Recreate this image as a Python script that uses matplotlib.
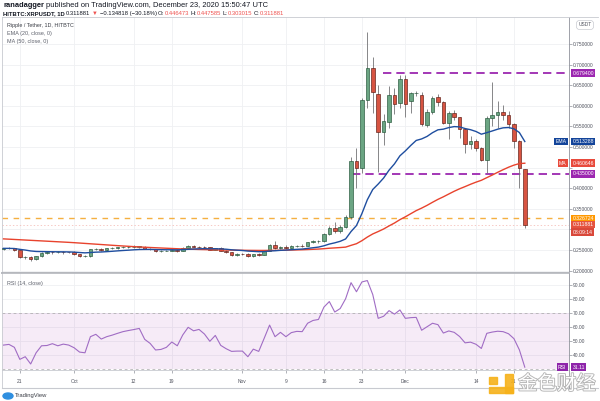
import numpy as np
import pandas as pd
import matplotlib
matplotlib.use('Agg')
import matplotlib.pyplot as plt
from matplotlib import transforms
from matplotlib.patches import Rectangle, Ellipse
from matplotlib.lines import Line2D
import matplotlib.patheffects as pe

plt.rcParams['lines.scale_dashes'] = False
FONT = ['Liberation Sans', 'DejaVu Sans']
plt.rcParams['font.family'] = FONT

# ---------------- data ----------------
dates = pd.date_range('2020-09-18', '2020-12-23', freq='D')

opens = [
    0.2530, 0.2540, 0.2545, 0.2495, 0.2325, 0.2340, 0.2270, 0.2345, 0.2435, 0.2445,
    0.2440, 0.2448, 0.2442, 0.2440, 0.2398, 0.2345, 0.2350, 0.2515, 0.2530, 0.2492,
    0.2540, 0.2555, 0.2568, 0.2575, 0.2578, 0.2582, 0.2585, 0.2532, 0.2522, 0.2478,
    0.2480, 0.2488, 0.2505, 0.2485, 0.2556, 0.2597, 0.2582, 0.2578, 0.2565, 0.2502,
    0.2548, 0.2482, 0.2444, 0.2380, 0.2410, 0.2403, 0.2345, 0.2398, 0.2385, 0.2484,
    0.2620, 0.2540, 0.2585, 0.2555, 0.2592, 0.2600, 0.2598, 0.2686, 0.2712, 0.2718,
    0.2900, 0.3039, 0.2958, 0.3063, 0.3306, 0.4660, 0.4480, 0.6140, 0.6910, 0.6290,
    0.5360, 0.5610, 0.6250, 0.6060, 0.6640, 0.6120, 0.6300, 0.6260, 0.5530, 0.5840,
    0.6220, 0.6080, 0.5590, 0.5830, 0.5720, 0.5430, 0.5070, 0.5150, 0.4970, 0.4680,
    0.5700, 0.5780, 0.5840, 0.5780, 0.5550, 0.5150, 0.446473]

highs = [
    0.2560, 0.2565, 0.2560, 0.2510, 0.2365, 0.2360, 0.2360, 0.2450, 0.2465, 0.2470,
    0.2480, 0.2465, 0.2460, 0.2470, 0.2410, 0.2370, 0.2530, 0.2550, 0.2550, 0.2555,
    0.2570, 0.2585, 0.2600, 0.2595, 0.2610, 0.2600, 0.2600, 0.2550, 0.2535, 0.2495,
    0.2510, 0.2525, 0.2515, 0.2575, 0.2620, 0.2615, 0.2605, 0.2600, 0.2580, 0.2560,
    0.2575, 0.2500, 0.2460, 0.2425, 0.2430, 0.2420, 0.2410, 0.2420, 0.2500, 0.2640,
    0.2720, 0.2600, 0.2610, 0.2610, 0.2625, 0.2635, 0.2700, 0.2740, 0.2745, 0.2920,
    0.3080, 0.3180, 0.3100, 0.3340, 0.4750, 0.4980, 0.6180, 0.7800, 0.7190, 0.6500,
    0.5800, 0.6480, 0.6440, 0.6750, 0.6750, 0.6330, 0.6360, 0.6330, 0.5930, 0.6230,
    0.6280, 0.6120, 0.5870, 0.5900, 0.5740, 0.5470, 0.5260, 0.5190, 0.4990, 0.5750,
    0.6580, 0.6110, 0.6030, 0.5880, 0.5580, 0.5180, 0.447585]

lows = [
    0.2500, 0.2515, 0.2480, 0.2300, 0.2290, 0.2240, 0.2250, 0.2320, 0.2415, 0.2410,
    0.2420, 0.2415, 0.2420, 0.2380, 0.2320, 0.2325, 0.2340, 0.2495, 0.2470, 0.2480,
    0.2520, 0.2535, 0.2545, 0.2550, 0.2550, 0.2555, 0.2520, 0.2500, 0.2450, 0.2455,
    0.2465, 0.2470, 0.2460, 0.2475, 0.2540, 0.2565, 0.2560, 0.2545, 0.2490, 0.2495,
    0.2470, 0.2430, 0.2365, 0.2365, 0.2385, 0.2335, 0.2330, 0.2360, 0.2375, 0.2470,
    0.2520, 0.2520, 0.2530, 0.2540, 0.2570, 0.2570, 0.2590, 0.2660, 0.2680, 0.2700,
    0.2870, 0.2920, 0.2920, 0.3040, 0.3250, 0.4000, 0.4360, 0.5950, 0.5830, 0.4400,
    0.5050, 0.5460, 0.5800, 0.5950, 0.5740, 0.5830, 0.6240, 0.5520, 0.5490, 0.5810,
    0.6000, 0.5550, 0.5200, 0.5660, 0.5230, 0.4850, 0.4950, 0.4900, 0.4650, 0.4360,
    0.5500, 0.5450, 0.5650, 0.5450, 0.4970, 0.4010, 0.303015]

closes = [
    0.2540, 0.2545, 0.2495, 0.2325, 0.2340, 0.2270, 0.2345, 0.2435, 0.2445, 0.2440,
    0.2448, 0.2442, 0.2440, 0.2398, 0.2345, 0.2350, 0.2515, 0.2530, 0.2492, 0.2540,
    0.2555, 0.2568, 0.2575, 0.2578, 0.2582, 0.2585, 0.2532, 0.2522, 0.2478, 0.2480,
    0.2488, 0.2505, 0.2485, 0.2556, 0.2597, 0.2582, 0.2578, 0.2565, 0.2502, 0.2548,
    0.2482, 0.2444, 0.2380, 0.2410, 0.2403, 0.2345, 0.2398, 0.2385, 0.2484, 0.2620,
    0.2540, 0.2585, 0.2555, 0.2592, 0.2600, 0.2598, 0.2686, 0.2712, 0.2718, 0.2900,
    0.3039, 0.2958, 0.3063, 0.3306, 0.4660, 0.4480, 0.6140, 0.6910, 0.6340, 0.5360,
    0.5630, 0.6260, 0.6040, 0.6640, 0.6040, 0.6300, 0.6310, 0.5550, 0.5840, 0.6200,
    0.6080, 0.5590, 0.5830, 0.5720, 0.5430, 0.5070, 0.5150, 0.4970, 0.4680, 0.5700,
    0.5780, 0.5840, 0.5780, 0.5550, 0.5150, 0.4480, 0.311881]

ema20 = [
    0.2540, 0.2540, 0.2536, 0.2516, 0.2499, 0.2477, 0.2465, 0.2462, 0.2460, 0.2458,
    0.2457, 0.2456, 0.2454, 0.2449, 0.2439, 0.2431, 0.2439, 0.2448, 0.2452, 0.2460,
    0.2469, 0.2479, 0.2488, 0.2496, 0.2505, 0.2512, 0.2514, 0.2515, 0.2511, 0.2508,
    0.2506, 0.2506, 0.2504, 0.2509, 0.2517, 0.2524, 0.2529, 0.2532, 0.2529, 0.2531,
    0.2526, 0.2519, 0.2505, 0.2496, 0.2488, 0.2474, 0.2467, 0.2459, 0.2461, 0.2476,
    0.2482, 0.2492, 0.2498, 0.2507, 0.2516, 0.2523, 0.2539, 0.2555, 0.2571, 0.2602,
    0.2644, 0.2674, 0.2711, 0.2768, 0.2948, 0.3094, 0.3384, 0.3720, 0.3969, 0.4101,
    0.4247, 0.4438, 0.4591, 0.4786, 0.4905, 0.5038, 0.5159, 0.5196, 0.5257, 0.5347,
    0.5417, 0.5433, 0.5471, 0.5495, 0.5488, 0.5448, 0.5420, 0.5377, 0.5311, 0.5348,
    0.5389, 0.5432, 0.5465, 0.5473, 0.5442, 0.5351, 0.5133]

ma50 = [
    0.2770, 0.2763, 0.2756, 0.2749, 0.2742, 0.2735, 0.2728, 0.2721, 0.2714, 0.2707,
    0.2700, 0.2693, 0.2686, 0.2678, 0.2669, 0.2660, 0.2651, 0.2642, 0.2633, 0.2624,
    0.2615, 0.2606, 0.2598, 0.2590, 0.2582, 0.2575, 0.2568, 0.2561, 0.2555, 0.2549,
    0.2543, 0.2537, 0.2531, 0.2525, 0.2521, 0.2517, 0.2513, 0.2510, 0.2507, 0.2504,
    0.2501, 0.2499, 0.2497, 0.2495, 0.2494, 0.2492, 0.2491, 0.2490, 0.2490, 0.2491,
    0.2492, 0.2494, 0.2496, 0.2499, 0.2502, 0.2506, 0.2511, 0.2517, 0.2523, 0.2532,
    0.2543, 0.2551, 0.2560, 0.2570, 0.2613, 0.2653, 0.2726, 0.2814, 0.2890, 0.2948,
    0.3010, 0.3085, 0.3155, 0.3237, 0.3306, 0.3381, 0.3456, 0.3517, 0.3584, 0.3658,
    0.3729, 0.3791, 0.3859, 0.3926, 0.3986, 0.4039, 0.4095, 0.4146, 0.4192, 0.4256,
    0.4319, 0.4385, 0.4449, 0.4509, 0.4560, 0.4598, 0.4606]

rsi14 = [
    46.9, 47.4, 45.3, 36.7, 38.6, 33.4, 41.4, 46.4, 46.6, 47.9,
    46.4, 47.6, 46.9, 45.0, 41.9, 41.4, 52.9, 54.6, 51.2, 52.9,
    54.0, 55.3, 56.5, 57.3, 58.0, 58.8, 51.0, 48.1, 43.4, 43.8,
    45.3, 49.1, 46.4, 54.1, 59.6, 57.1, 58.1, 54.8, 49.6, 53.8,
    46.7, 44.3, 42.4, 42.6, 42.6, 38.6, 44.0, 42.4, 51.7, 61.2,
    52.9, 56.0, 52.9, 55.8, 56.7, 56.5, 62.5, 64.5, 65.2, 74.0,
    78.0, 70.5, 73.0, 80.0, 91.5, 85.0, 92.0, 93.0, 83.0, 66.0,
    67.5, 71.5, 69.0, 72.0, 66.0, 66.5, 66.7, 57.5, 60.0, 62.5,
    61.5, 55.5, 57.0, 56.0, 53.0, 48.5, 49.0, 47.5, 44.5, 55.3,
    56.2, 56.8, 56.5, 55.0, 51.5, 43.5, 31.11]

price_ticks = [0.20, 0.25, 0.30, 0.35, 0.40, 0.45, 0.50, 0.55, 0.60, 0.65, 0.70, 0.75]
hidden_price_ticks = [0.30, 0.45]          # covered by value boxes in the reference
rsi_ticks = [40, 50, 60, 70, 80, 90]
tick_dates = ['2020-09-21', '2020-10-01', '2020-10-12', '2020-10-19', '2020-11-01',
              '2020-11-09', '2020-11-16', '2020-11-23', '2020-12-01', '2020-12-14', '2020-12-21']
tick_labels = ['21', 'Oct', '12', '19', 'Nov', '9', '16', '23', 'Dec', '14', '21']

resistance = 0.6794
support = 0.435
orange_level = 0.326724
last_close = closes[-1]
ema_last = 0.513288
ma_last = 0.460646
rsi_last = 31.11

# ---------------- figure ----------------
W, H = 600, 401
fig = plt.figure(figsize=(W / 100, H / 100), dpi=100)
fig.patch.set_facecolor('white')

def fx(px):
    return px / W

def fy(py):
    return 1 - py / H

AX_L, AX_R = 2, 569
ax = fig.add_axes([fx(AX_L), fy(273), (AX_R - AX_L) / W, (273 - 17) / H])
ar = fig.add_axes([fx(AX_L), fy(370), (AX_R - AX_L) / W, (370 - 273) / H])

n = len(closes)
idx = np.arange(n)
o = np.array(opens); h = np.array(highs); l = np.array(lows); c = np.array(closes)
XMIN = -0.28
XMAX = XMIN + (AX_R - AX_L) / 5.43
for a in (ax, ar):
    a.set_xlim(XMIN, XMAX)
ax.set_ylim(0.1942, 0.8155)
ar.set_ylim(29.1, 98.4)

tick_idx = [int((pd.Timestamp(d) - dates[0]).days) for d in tick_dates]

GRID = '#eff0f3'
for v in price_ticks:
    ax.axhline(v, color=GRID, lw=0.6, zorder=0)
for t in tick_idx:
    ax.axvline(t, color=GRID, lw=0.6, zorder=0)
    ar.axvline(t, color=GRID, lw=0.6, zorder=0)
for v in rsi_ticks:
    ar.axhline(v, color=GRID, lw=0.6, zorder=0)

# level lines
ax.axhline(orange_level, color='#f5b041', lw=1.0, ls=(0, (4, 4)), zorder=1.5)
ax.axhline(last_close, color='#f3b3ad', lw=0.5, ls=(0, (1, 1.5)), zorder=1.5)
ax.hlines(resistance, 69.9, XMAX, colors='#9c27b0', lw=1.3, linestyles=[(0, (6, 3.6))], zorder=1.6)
ax.hlines(support, 64.1, XMAX, colors='#9c27b0', lw=1.3, linestyles=[(0, (6, 3.6))], zorder=1.6)

# candles
up = c >= o
bottom = np.minimum(o, c)
height = np.maximum(np.abs(c - o), 0.0006)
ax.vlines(idx, l, h, color='#737375', lw=0.6, zorder=2)
ax.bar(idx[up], height[up], bottom=bottom[up], width=0.66, color='#6ba583',
       edgecolor='#225437', linewidth=0.45, zorder=3)
ax.bar(idx[~up], height[~up], bottom=bottom[~up], width=0.66, color='#d75442',
       edgecolor='#5b1a13', linewidth=0.45, zorder=3)

# indicators
ax.plot(idx, ma50, color='#e8432d', lw=1.0, zorder=4)
ax.plot(idx, ema20, color='#1f4e9f', lw=1.0, zorder=4)

# RSI
ar.axhspan(30, 70, color='#9c27b0', alpha=0.09, lw=0, zorder=0.5)
ar.axhline(70, color='#a8a8a8', lw=0.5, ls=(0, (2, 2)), zorder=1)
ar.axhline(30, color='#a8a8a8', lw=0.5, ls=(0, (2, 2)), zorder=1)
ar.plot(idx, rsi14, color='#a06cc4', lw=0.8, zorder=3)

# axes styling
for a in (ax, ar):
    a.set_facecolor('white')
    a.yaxis.tick_right()
    for s in ('top', 'left', 'bottom'):
        a.spines[s].set_color('#c8cad0')
        a.spines[s].set_linewidth(0.6)
    a.spines['right'].set_color('#8f929b')
    a.spines['right'].set_linewidth(0.6)
ax.spines['bottom'].set_color('#b4b6bc')
ax.spines['bottom'].set_linewidth(1.2)
ar.spines['top'].set_color('#b4b6bc')
ar.spines['top'].set_linewidth(1.2)

ax.set_yticks(price_ticks)
ax.set_yticklabels(['' if v in hidden_price_ticks else f'{v:.6f}' for v in price_ticks])
ax.tick_params(axis='y', length=2, width=0.5, color='#8f929b', labelsize=3.5,
               labelcolor='#50535e', pad=1)
ax.tick_params(axis='x', length=0, labelbottom=False)

ar.set_yticks(rsi_ticks)
ar.set_yticklabels([f'{v:.2f}' for v in rsi_ticks])
ar.tick_params(axis='y', length=2, width=0.5, color='#8f929b', labelsize=3.5,
               labelcolor='#50535e', pad=1)
ar.set_xticks(tick_idx)
ar.set_xticklabels(tick_labels)
ar.tick_params(axis='x', length=2, width=0.5, color='#8f929b', labelsize=3.5,
               labelcolor='#50535e', pad=4.5)

# axis value boxes
BOX_FS = 3.7

def axis_box(a, y, txt, fc):
    tr = transforms.blended_transform_factory(fig.transFigure, a.transData)
    a.text(fx(572.5), y, txt, transform=tr, ha='left', va='center', fontsize=BOX_FS,
           color='white', bbox=dict(boxstyle='square,pad=0.25', fc=fc, ec='none'),
           clip_on=False, zorder=20)

def tag_box(a, y, txt, fc):
    tr = transforms.blended_transform_factory(fig.transFigure, a.transData)
    a.text(fx(566.5), y, txt, transform=tr, ha='right', va='center', fontsize=BOX_FS,
           color='white', bbox=dict(boxstyle='square,pad=0.25', fc=fc, ec='none'),
           clip_on=False, zorder=20)

axis_box(ax, resistance, f'{resistance:.6f}', '#9c27b0')
axis_box(ax, ema_last, f'{ema_last:.6f}', '#13449a')
tag_box(ax, ema_last, 'EMA', '#13449a')
axis_box(ax, ma_last, f'{ma_last:.6f}', '#e84a3c')
tag_box(ax, ma_last, 'MA', '#e84a3c')
axis_box(ax, support, f'{support:.6f}', '#9c27b0')
axis_box(ax, orange_level, f'{orange_level:.6f}', '#ff9800')
axis_box(ax, last_close, f'{last_close:.6f}', '#e5533f')
axis_box(ax, last_close - 7.6 / 412, '08:09:14', '#d9483a')
axis_box(ar, rsi_last, f'{rsi_last:.2f}', '#8e24aa')
tag_box(ar, rsi_last, 'RSI', '#8e24aa')

fig.text(fx(585), fy(25), 'USDT', fontsize=3.5, color='#50535e', ha='center', va='center',
         bbox=dict(boxstyle='round,pad=0.4,rounding_size=0.6', fc='white', ec='#c8cad0', lw=0.5))

# panel legends
fig.text(fx(7), fy(26), 'Ripple / Tether, 1D, HITBTC', fontsize=3.9, color='#3a3d45', va='center')
fig.text(fx(7), fy(34), 'EMA (20, close, 0)', fontsize=3.9, color='#5d606b', va='center')
fig.text(fx(7), fy(42), 'MA (50, close, 0)', fontsize=3.9, color='#5d606b', va='center')
fig.text(fx(7), fy(283), 'RSI (14, close)', fontsize=3.9, color='#5d606b', va='center')

# header
renderer = fig.canvas.get_renderer()

def draw_segments(y_px, segs, size):
    x = 3.0
    for s, w, col, gap in segs:
        x += gap
        t = fig.text(fx(x), fy(y_px), s, fontsize=size, fontweight=w, color=col,
                     va='center', ha='left')
        bb = t.get_window_extent(renderer=renderer)
        x += bb.width

DARK = '#131722'
RED = '#ef5350'
draw_segments(5.5, [('ranadagger', 'bold', DARK, 0),
                    ('published on TradingView.com, December 23, 2020 15:50:47 UTC', 'normal', DARK, 1.9)], 5.4)
draw_segments(13.5, [('HITBTC:XRPUSDT, 1D', 'bold', DARK, 0),
                     ('0.311881', 'normal', DARK, 1.5),
                     ('\u25bc', 'normal', RED, 1.5),
                     ('\u22120.134818 (\u221230.18%)', 'normal', DARK, 1.5),
                     ('O:', 'normal', DARK, 1.5), ('0.446473', 'normal', RED, 0.3),
                     ('H:', 'normal', DARK, 1.5), ('0.447585', 'normal', RED, 0.3),
                     ('L:', 'normal', DARK, 1.5), ('0.303015', 'normal', RED, 0.3),
                     ('C:', 'normal', DARK, 1.5), ('0.311881', 'normal', RED, 0.3)], 4.2)

# outer frame lines
frame_col = '#c8cad0'
fig.add_artist(Line2D([fx(2), fx(2)], [fy(370), fy(388)], color=frame_col, lw=0.6))
fig.add_artist(Line2D([fx(2), fx(598)], [fy(388), fy(388)], color=frame_col, lw=0.8))
fig.add_artist(Line2D([fx(569), fx(569)], [fy(370), fy(388)], color='#8f929b', lw=0.6))
fig.add_artist(Line2D([fx(569), fx(598)], [fy(17), fy(17)], color=frame_col, lw=0.6))

# TradingView logo
fig.add_artist(Ellipse((fx(8), fy(396)), 10 / W, 6 / H, color='#2f8fe0', transform=fig.transFigure))
fig.text(fx(15), fy(396), 'TradingView', fontsize=4.2, color='#3a3d45', va='center')

# watermark
wm = '#f6b21b'
for (x0, y0, w0, h0) in [(505, 374, 8, 19), (489, 387, 24, 6), (489, 377, 8, 7)]:
    fig.add_artist(Rectangle((fx(x0), fy(y0 + h0)), w0 / W, h0 / H, color=wm, alpha=0.9,
                             transform=fig.transFigure, zorder=30))
t = fig.text(fx(557), fy(384), '金色财经', fontsize=14, color='white', ha='center', va='center',
             family=['Noto Sans CJK SC', 'DejaVu Sans'], zorder=31)
t.set_path_effects([pe.Stroke(linewidth=1.3, foreground='#b5b5b5'), pe.Normal()])

fig.savefig('out.png', dpi=100, facecolor='white')
